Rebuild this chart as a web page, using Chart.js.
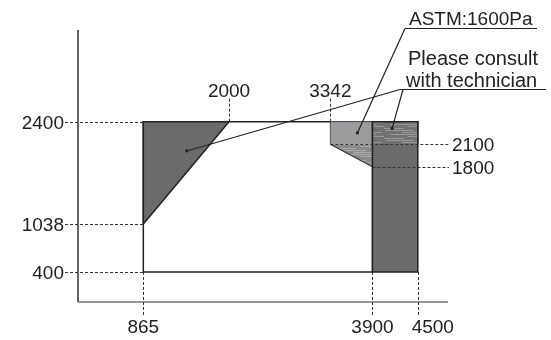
<!DOCTYPE html>
<html>
<head>
<meta charset="utf-8">
<script src="https://cdn.jsdelivr.net/npm/chart.js@4.4.1/dist/chart.umd.min.js"></script>
<style>
  html, body { margin: 0; padding: 0; background: #fff; }
</style>
</head>
<body>
<canvas id="chart" width="551" height="340"></canvas>
<script>
// axis extent (data units)
const xRange = [0, 4900];
const yRange = [0, 3620];

// outline rectangle
const frameX = [865, 3900, 3900, 865, 865];
const frameY = [400, 400, 2400, 2400, 400];

// dark wedge on the left
const wedgeX = [865, 2000, 865, 865];
const wedgeY = [1038, 2400, 2400, 1038];

// ASTM zone (upper plain part, lower streaked part)
const astmTopX = [3342, 3342, 3900, 3900];
const astmTopY = [2100, 2400, 2400, 2100];
const astmLowX = [3342, 3900, 3900];
const astmLowY = [2100, 1800, 2100];

// right column + its streaked top
const columnX = [3900, 4500, 4500, 3900, 3900];
const columnY = [400, 400, 2400, 2400, 400];
const columnTopX = [3900, 3900, 4500, 4500];
const columnTopY = [2100, 2400, 2400, 2100];

// tick labels and where their guides end
const leftTicks = [2400, 1038, 400];
const bottomTicks = [865, 3900, 4500];
const topTicks = [2000, 3342];
const rightTicks = [2100, 1800];
const rightGuideFrom = [3342, 3900];

// callouts
const astmLabel = 'ASTM:1600Pa';
const astmTarget = [3700, 2250];
const consultLabel = ['Please consult', 'with technician'];
const consultTargets = [[1440, 2010], [4160, 2310]];

const INK = '#222';
const DARK = '#6b6b6d';
const LIGHT = '#9c9c9e';

function pts(xs, ys) {
  return xs.map((x, i) => ({ x, y: ys[i] }));
}

// streak texture for the hatched areas
function streaks(base, line) {
  const c = document.createElement('canvas');
  c.width = 48;
  c.height = 10;
  const g = c.getContext('2d');
  g.fillStyle = base;
  g.fillRect(0, 0, c.width, c.height);
  g.strokeStyle = line;
  g.lineWidth = 1;
  const rows = [[0.5, 2, 30], [2.5, 18, 46], [4.5, 6, 40], [6.5, 24, 48], [8.5, 0, 20]];
  rows.forEach(([y, a, b]) => {
    g.beginPath();
    g.moveTo(a, y);
    g.lineTo(b, y);
    g.stroke();
  });
  return g.createPattern(c, 'repeat');
}

function shape(xs, ys, fillColor, border, order, width = 1.5) {
  return {
    data: pts(xs, ys),
    fill: 'shape',
    backgroundColor: fillColor,
    borderColor: border,
    borderWidth: width,
    pointRadius: 0,
    tension: 0,
    order,
    clip: false,
  };
}

const ctxMain = document.getElementById('chart').getContext('2d');

const datasets = [
  shape(frameX, frameY, '#ffffff', INK, 10),
  shape(wedgeX, wedgeY, DARK, INK, 9),
  shape(astmTopX, astmTopY, LIGHT, '#555', 8, 1),
  shape(astmLowX, astmLowY, streaks('#8a8a8c', '#aaaaac'), '#333', 7, 1.2),
  shape(columnX, columnY, DARK, INK, 6),
  shape(columnTopX, columnTopY, streaks('#727274', '#98989a'), INK, 5),
  // axis lines
  { data: pts([0, 0], [yRange[1], 0]), borderColor: '#333', borderWidth: 1.5, pointRadius: 0, fill: false, order: 1, clip: false },
  { data: pts([0, xRange[1]], [0, 0]), borderColor: '#777', borderWidth: 1.5, pointRadius: 0, fill: false, order: 1, clip: false },
];

/**
 * Dashed guides, tick labels and callouts
 */
const guidePlugin = {
  id: 'guides',
  afterDatasetsDraw(chart) {
    const { ctx, scales: { x, y } } = chart;
    const left = x.getPixelForValue(0);
    const bottom = y.getPixelForValue(0);
    const numFont = '19px "Liberation Sans", Arial, sans-serif';

    ctx.save();
    ctx.strokeStyle = '#333';
    ctx.lineWidth = 1;
    ctx.setLineDash([3, 2]);

    const dash = (x1, y1, x2, y2) => {
      ctx.beginPath();
      ctx.moveTo(x1, y1);
      ctx.lineTo(x2, y2);
      ctx.stroke();
    };

    leftTicks.forEach((v) => {
      const py = Math.round(y.getPixelForValue(v)) + 0.5;
      dash(left - 13, py, x.getPixelForValue(865), py);
    });
    bottomTicks.forEach((v) => {
      const px = Math.round(x.getPixelForValue(v)) + 0.5;
      dash(px, y.getPixelForValue(400), px, bottom + 13);
    });
    topTicks.forEach((v) => {
      const px = Math.round(x.getPixelForValue(v)) + 0.5;
      dash(px, y.getPixelForValue(2400), px, y.getPixelForValue(2400) - 24);
    });
    rightTicks.forEach((v, i) => {
      const py = Math.round(y.getPixelForValue(v)) + 0.5;
      dash(x.getPixelForValue(rightGuideFrom[i]), py, x.right + 1, py);
    });

    ctx.setLineDash([]);
    ctx.fillStyle = '#222';
    ctx.font = numFont;
    ctx.textBaseline = 'alphabetic';

    ctx.textAlign = 'right';
    leftTicks.forEach((v) => {
      ctx.fillText(String(v), left - 14, y.getPixelForValue(v) + 7);
    });

    ctx.textAlign = 'center';
    const bottomShift = [0, 0, 15];
    bottomTicks.forEach((v, i) => {
      ctx.fillText(String(v), x.getPixelForValue(v) + bottomShift[i], bottom + 31);
    });
    topTicks.forEach((v) => {
      ctx.fillText(String(v), x.getPixelForValue(v), y.getPixelForValue(2400) - 25);
    });

    ctx.textAlign = 'left';
    rightTicks.forEach((v) => {
      ctx.fillText(String(v), x.right + 4, y.getPixelForValue(v) + 7);
    });

    // callouts
    ctx.strokeStyle = '#222';
    ctx.lineWidth = 1.2;
    const leader = (x1, y1, target) => {
      const tx = x.getPixelForValue(target[0]);
      const ty = y.getPixelForValue(target[1]);
      ctx.beginPath();
      ctx.moveTo(x1, y1);
      ctx.lineTo(tx, ty);
      ctx.stroke();
      ctx.beginPath();
      ctx.arc(tx, ty, 1.6, 0, Math.PI * 2);
      ctx.fill();
    };

    ctx.font = '19px "Liberation Sans", Arial, sans-serif';
    ctx.fillText(astmLabel, 409, 25);
    ctx.beginPath();
    ctx.moveTo(405, 28.5);
    ctx.lineTo(537, 28.5);
    ctx.stroke();
    leader(405, 28.5, astmTarget);

    ctx.font = '20px "Liberation Sans", Arial, sans-serif';
    ctx.fillText(consultLabel[0], 408, 65);
    ctx.fillText(consultLabel[1], 406, 87);
    ctx.beginPath();
    ctx.moveTo(400, 89.5);
    ctx.lineTo(546, 89.5);
    ctx.stroke();
    leader(400, 89.5, consultTargets[0]);
    leader(403, 89.5, consultTargets[1]);

    ctx.restore();
  },
};

new Chart(ctxMain, {
  type: 'line',
  data: { datasets },
  options: {
    responsive: false,
    animation: false,
    devicePixelRatio: 1,
    layout: { padding: { left: 78, right: 103, top: 30, bottom: 38 } },
    plugins: {
      legend: { display: false },
      tooltip: { enabled: false },
    },
    scales: {
      x: { type: 'linear', min: xRange[0], max: xRange[1], display: false },
      y: { type: 'linear', min: yRange[0], max: yRange[1], display: false },
    },
  },
  plugins: [guidePlugin],
});
</script>
</body>
</html>
